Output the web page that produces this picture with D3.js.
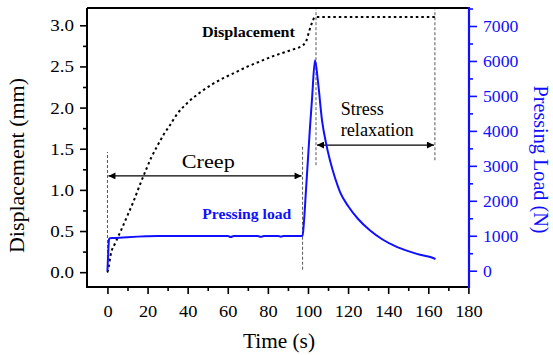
<!DOCTYPE html>
<html>
<head>
<meta charset="utf-8">
<script src="https://cdn.jsdelivr.net/npm/d3@7"></script>
<style>
  html, body { margin: 0; padding: 0; background: #fff; }
  svg { display: block; font-family: "Liberation Serif", "Times New Roman", serif; }
</style>
</head>
<body>
<svg id="chart" width="553" height="355"></svg>
<script>
// displacement (mm) vs time (s), dotted black curve
var dispTime = [0, 0.5, 1.6, 4, 7, 10, 13, 16, 19.5, 22, 25, 28, 31, 35, 40, 46, 52, 58, 64, 70, 76, 82, 88, 93, 97, 99, 100.5, 102, 103.5, 110, 120, 130, 140, 150, 163.5];
var dispMM   = [0, 0.05, 0.21, 0.36, 0.52, 0.69, 0.86, 1.05, 1.26, 1.40, 1.54, 1.67, 1.78, 1.93, 2.06, 2.18, 2.28, 2.36, 2.43, 2.50, 2.56, 2.62, 2.67, 2.71, 2.75, 2.80, 2.92, 3.03, 3.10, 3.10, 3.10, 3.10, 3.10, 3.10, 3.10];

// pressing load (N) vs time (s), solid blue curve
var loadTime = [0, 0.3, 0.8, 1.2, 3, 6, 10, 15, 20, 25, 35, 45, 55, 60, 61.5, 63, 70, 75, 76.5, 78, 85, 86.5, 88, 96, 97.3, 98, 99, 100, 101, 102, 103.5, 105, 107, 109, 111, 113.5, 116, 120, 125, 131, 137, 144, 150, 157, 161, 163.6];
var loadN    = [0, 400, 900, 930, 935, 945, 960, 975, 985, 990, 990, 995, 992, 990, 965, 990, 995, 990, 970, 990, 992, 975, 992, 990, 1000, 1400, 2300, 3200, 4100, 4900, 6020, 5400, 4300, 3650, 3150, 2650, 2250, 1850, 1480, 1150, 900, 690, 560, 440, 390, 335];

var xTicks = [0, 20, 40, 60, 80, 100, 120, 140, 160, 180];
var xMinor = [10, 30, 50, 70, 90, 110, 130, 150, 170];
var yLeftTicks = [0, 0.5, 1.0, 1.5, 2.0, 2.5, 3.0];
var yLeftMinor = [0.25, 0.75, 1.25, 1.75, 2.25, 2.75];
var yRightTicks = [0, 1000, 2000, 3000, 4000, 5000, 6000, 7000];
var yRightMinor = [500, 1500, 2500, 3500, 4500, 5500, 6500, 7500];

// dashed guide lines: time, from mm, to mm
var guideTime = [0, 97.3, 104, 163.3];
var guideLow  = [-0.01, 0.03, 1.30, 1.36];
var guideHigh = [1.46, 1.55, 3.19, 3.19];

var blue = "#1010ff";

var svg = d3.select("#chart");
var pLeft = 87, pRight = 469, pTop = 8, pBottom = 287;

var x = d3.scaleLinear().domain([-10.2, 180.3]).range([pLeft, pRight]);
var yL = d3.scaleLinear().domain([-0.18, 3.21]).range([pBottom, pTop]);
var yR = d3.scaleLinear().domain([-466, 7515]).range([pBottom, pTop]);

var defs = svg.append("defs");
["start", "end"].forEach(function(k) {
  defs.append("marker")
      .attr("id", "arrow-" + k)
      .attr("viewBox", "0 0 10 10")
      .attr("refX", k == "end" ? 10 : 0).attr("refY", 5)
      .attr("markerWidth", 9).attr("markerHeight", 7)
      .attr("markerUnits", "userSpaceOnUse")
      .attr("orient", "auto")
    .append("path")
      .attr("d", k == "end" ? "M0,0L10,5L0,10z" : "M10,0L0,5L10,10z")
      .attr("fill", "#000");
});

// guides
svg.append("g").selectAll("line")
  .data(guideTime)
  .enter().append("line")
    .attr("x1", function(d) { return x(d); })
    .attr("x2", function(d) { return x(d); })
    .attr("y1", function(d, i) { return yL(guideLow[i]); })
    .attr("y2", function(d, i) { return yL(guideHigh[i]); })
    .attr("stroke", "#555")
    .attr("stroke-width", 1)
    .attr("stroke-dasharray", "3,2");

// arrows
var arrows = [[0, 97.3, 1.17], [104, 163.3, 1.545]];
svg.append("g").selectAll("line")
  .data(arrows)
  .enter().append("line")
    .attr("x1", function(d) { return x(d[0]) + 1; })
    .attr("x2", function(d) { return x(d[1]) - 1; })
    .attr("y1", function(d) { return yL(d[2]); })
    .attr("y2", function(d) { return yL(d[2]); })
    .attr("stroke", "#000")
    .attr("stroke-width", 1.2)
    .attr("marker-start", "url(#arrow-start)")
    .attr("marker-end", "url(#arrow-end)");

// series
var dispLine = d3.line()
    .x(function(d, i) { return x(dispTime[i]); })
    .y(function(d) { return yL(d); })
    .curve(d3.curveMonotoneX);
svg.append("path")
    .attr("d", dispLine(dispMM))
    .attr("fill", "none")
    .attr("stroke", "#000")
    .attr("stroke-width", 2)
    .attr("stroke-dasharray", "2.5,3");

var loadLine = d3.line()
    .x(function(d, i) { return x(loadTime[i]); })
    .y(function(d) { return yR(d); })
    .curve(d3.curveMonotoneX);
svg.append("path")
    .attr("d", loadLine(loadN))
    .attr("fill", "none")
    .attr("stroke", blue)
    .attr("stroke-width", 2);

// axes
var stretch = function(sel, k) {
  sel.selectAll("text").each(function() {
    d3.select(this).attr("textLength", this.getComputedTextLength() * k)
        .attr("lengthAdjust", "spacingAndGlyphs");
  });
};

var styleAxis = function(g, color) {
  g.select(".domain").remove();
  g.selectAll("line").attr("stroke", color).attr("stroke-width", 1.6);
  g.selectAll("text").attr("fill", color)
      .style("font-family", "Liberation Serif, Times New Roman, serif")
      .style("font-size", "17px");
};

var gx = svg.append("g").attr("transform", "translate(0," + pBottom + ")")
    .call(d3.axisBottom(x).tickValues(xTicks).tickSize(7).tickPadding(11).tickSizeOuter(0));
styleAxis(gx, "#000");
stretch(gx, 1.08);
svg.append("g").attr("transform", "translate(0," + pBottom + ")")
    .call(d3.axisBottom(x).tickValues(xMinor).tickSize(4).tickFormat("").tickSizeOuter(0))
    .call(styleAxis, "#000");

var gl = svg.append("g").attr("transform", "translate(" + pLeft + ",0)")
    .call(d3.axisLeft(yL).tickValues(yLeftTicks).tickFormat(d3.format(".1f")).tickSize(7).tickPadding(6).tickSizeOuter(0));
styleAxis(gl, "#000");
stretch(gl, 1.12);
svg.append("g").attr("transform", "translate(" + pLeft + ",0)")
    .call(d3.axisLeft(yL).tickValues(yLeftMinor).tickSize(4).tickFormat("").tickSizeOuter(0))
    .call(styleAxis, "#000");

var gr = svg.append("g").attr("transform", "translate(" + pRight + ",0)")
    .call(d3.axisRight(yR).tickValues(yRightTicks).tickFormat(d3.format("d")).tickSize(8).tickPadding(6).tickSizeOuter(0));
styleAxis(gr, blue);
stretch(gr, 1.04);
svg.append("g").attr("transform", "translate(" + pRight + ",0)")
    .call(d3.axisRight(yR).tickValues(yRightMinor).tickSize(4).tickFormat("").tickSizeOuter(0))
    .call(styleAxis, blue);

// frame
svg.append("line").attr("x1", pLeft).attr("x2", pRight).attr("y1", pTop).attr("y2", pTop)
    .attr("stroke", "#000").attr("stroke-width", 2);
svg.append("line").attr("x1", pLeft).attr("x2", pLeft).attr("y1", pTop).attr("y2", pBottom + 1)
    .attr("stroke", "#000").attr("stroke-width", 2);
svg.append("line").attr("x1", pLeft - 1).attr("x2", pRight).attr("y1", pBottom).attr("y2", pBottom)
    .attr("stroke", "#000").attr("stroke-width", 2);
svg.append("line").attr("x1", pRight).attr("x2", pRight).attr("y1", pTop - 1).attr("y2", pBottom + 1)
    .attr("stroke", blue).attr("stroke-width", 2.2);

// axis titles
svg.append("text")
    .attr("transform", "translate(24," + ((pTop + pBottom) / 2 + 18) + ") rotate(-90)")
    .attr("text-anchor", "middle")
    .attr("font-size", 21)
    .attr("textLength", 175).attr("lengthAdjust", "spacingAndGlyphs")
    .text("Displacement (mm)");
svg.append("text")
    .attr("transform", "translate(534," + ((pTop + pBottom) / 2 + 12) + ") rotate(90)")
    .attr("text-anchor", "middle")
    .attr("font-size", 20)
    .attr("fill", blue)
    .attr("textLength", 148).attr("lengthAdjust", "spacingAndGlyphs")
    .text("Pressing Load (N)");
svg.append("text")
    .attr("x", 279).attr("y", 348)
    .attr("text-anchor", "middle")
    .attr("font-size", 20)
    .attr("textLength", 72).attr("lengthAdjust", "spacingAndGlyphs")
    .text("Time (s)");

// annotations
svg.append("text")
    .attr("x", x(47.1)).attr("y", yL(2.86))
    .attr("font-size", 15).attr("font-weight", "bold")
    .attr("textLength", 93).attr("lengthAdjust", "spacingAndGlyphs")
    .text("Displacement");
svg.append("text")
    .attr("x", x(47.3)).attr("y", yL(0.65))
    .attr("font-size", 15).attr("font-weight", "bold")
    .attr("fill", blue)
    .attr("textLength", 89).attr("lengthAdjust", "spacingAndGlyphs")
    .text("Pressing load");
svg.append("text")
    .attr("x", x(50.3)).attr("y", yL(1.27))
    .attr("text-anchor", "middle")
    .attr("font-size", 19)
    .attr("textLength", 53).attr("lengthAdjust", "spacingAndGlyphs")
    .text("Creep");
svg.append("text")
    .attr("x", x(116.3)).attr("y", yL(1.91))
    .attr("font-size", 18)
    .attr("textLength", 43).attr("lengthAdjust", "spacingAndGlyphs")
    .text("Stress");
svg.append("text")
    .attr("x", x(116.3)).attr("y", yL(1.65))
    .attr("font-size", 18)
    .attr("textLength", 73).attr("lengthAdjust", "spacingAndGlyphs")
    .text("relaxation");
</script>
</body>
</html>
